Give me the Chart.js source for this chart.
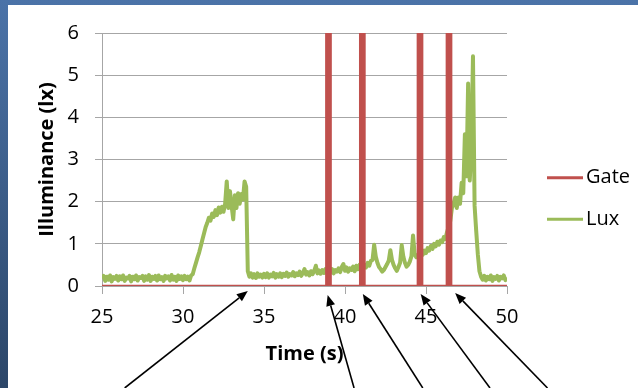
<!DOCTYPE html>
<html>
<head>
<meta charset="utf-8">
<script src="https://cdn.jsdelivr.net/npm/chart.js@4"></script>
<style>
  html, body { margin: 0; padding: 0; }
  body { width: 638px; height: 388px; overflow: hidden; position: relative; background: linear-gradient(#4b73a8, #2c4668); }
  .panel { position: absolute; left: 8px; top: 5px; width: 630px; height: 383px; background: #fff; }
</style>
</head>
<body>
<div class="panel"><canvas id="c" width="630" height="383"></canvas></div>
<script>
const RED = '#C0504D';
const GREEN = '#9BBB59';
const GRID = '#a6a6a6';
const FONT = "'Open Sans', 'DejaVu Sans', sans-serif";

// Lux samples, one every 0.1 s from 25.0 s to 50.0 s
const luxStart = 25.0;
const luxStep = 0.1;
const luxValues = [
  0.18,0.24,0.12,0.22,0.15,0.25,0.11,0.21,0.17,0.24,
  0.13,0.23,0.16,0.25,0.12,0.20,0.18,0.24,0.11,0.22,
  0.16,0.25,0.13,0.21,0.19,0.24,0.12,0.23,0.15,0.26,
  0.12,0.22,0.17,0.24,0.13,0.25,0.16,0.21,0.12,0.24,
  0.18,0.23,0.13,0.26,0.15,0.22,0.12,0.25,0.17,0.23,
  0.14,0.24,0.16,0.22,0.13,0.25,0.28,0.42,0.55,0.68,
  0.80,0.95,1.10,1.25,1.40,1.50,1.62,1.55,1.72,1.64,
  1.80,1.68,1.86,1.74,1.88,1.76,1.95,2.48,1.85,2.25,
  1.90,1.58,2.15,1.85,2.20,1.95,2.18,2.05,2.48,2.35,
  0.35,0.22,0.30,0.20,0.28,0.19,0.30,0.22,0.27,0.20,
  0.29,0.21,0.30,0.20,0.27,0.23,0.31,0.20,0.28,0.22,
  0.30,0.21,0.29,0.24,0.32,0.22,0.28,0.25,0.33,0.23,
  0.30,0.26,0.34,0.24,0.31,0.40,0.27,0.33,0.25,0.35,
  0.28,0.36,0.48,0.30,0.37,0.29,0.38,0.31,0.40,0.30,
  0.36,0.32,0.40,0.30,0.38,0.34,0.42,0.33,0.45,0.52,
  0.36,0.44,0.34,0.42,0.38,0.46,0.35,0.48,0.40,0.50,
  0.42,0.38,0.50,0.44,0.55,0.48,0.60,0.62,0.98,0.70,
  0.55,0.45,0.40,0.34,0.38,0.45,0.52,0.60,0.85,0.62,
  0.50,0.42,0.36,0.45,0.55,0.97,0.70,0.55,0.46,0.50,
  0.58,0.70,1.20,0.75,0.68,0.74,0.70,0.80,0.74,0.84,
  0.78,0.90,0.84,0.95,0.88,1.00,0.94,1.05,0.98,1.08,
  1.04,1.16,1.12,1.28,1.40,1.55,1.85,1.95,2.10,1.85,
  2.10,1.95,2.45,2.20,3.60,2.60,4.80,2.50,3.30,5.45,
  1.90,1.30,0.75,0.35,0.22,0.15,0.24,0.13,0.22,0.16,
  0.25,0.12,0.21,0.17,0.24,0.13,0.22,0.18,0.25,0.14,
  0.20
];

// Gate signal: edges of the four pulses
const gateTimes  = [25, 38.85,38.85,39.11,39.11, 40.94,40.94,41.2,41.2, 44.5,44.5,44.76,44.76, 46.29,46.29,46.55,46.55, 50];
const gateValues = [0,  0,6,6,0,                 0,6,6,0,               0,6,6,0,                0,6,6,0,                  0];

const xTicks = [25, 30, 35, 40, 45, 50];
const yTicks = [0, 1, 2, 3, 4, 5, 6];

// arrows under the axis: tip / tail in seconds
const arrowTips  = [34.0, 38.93, 41.1, 44.67, 46.8];
const arrowTails = [26.4, 40.56, 44.8, 48.95, 52.5];
const arrowDrop  = [5, 9, 8, 8, 7];

const legendPlugin = {
  id: 'sideLegend',
  afterDraw(chart) {
    const { ctx, chartArea } = chart;
    ctx.save();
    ctx.font = `20px ${FONT}`;
    ctx.textBaseline = 'middle';
    ctx.fillStyle = '#000';
    chart.data.datasets.forEach((ds, i) => {
      const y = 172.7 + i * 41.6;
      const x0 = chartArea.right + 40;
      ctx.strokeStyle = ds.borderColor;
      ctx.lineWidth = 3;
      ctx.beginPath(); ctx.moveTo(x0, y); ctx.lineTo(x0 + 36, y); ctx.stroke();
      ctx.fillText(ds.label, x0 + 39, y);
    });
    ctx.restore();
  }
};

const arrowPlugin = {
  id: 'arrows',
  afterDraw(chart) {
    const { ctx, chartArea, scales: { x } } = chart;
    ctx.save();
    ctx.strokeStyle = '#000';
    ctx.fillStyle = '#000';
    ctx.lineWidth = 1.6;
    arrowTips.forEach((t, i) => {
      const tx = x.getPixelForValue(t), ty = chartArea.bottom + arrowDrop[i];
      const bx = x.getPixelForValue(arrowTails[i]), by = chart.height;
      const a = Math.atan2(ty - by, tx - bx);
      const len = 11, hw = 4.5;
      const hx = tx - len * Math.cos(a), hy = ty - len * Math.sin(a);
      ctx.beginPath(); ctx.moveTo(bx, by); ctx.lineTo(hx, hy); ctx.stroke();
      ctx.beginPath();
      ctx.moveTo(tx, ty);
      ctx.lineTo(hx + hw * Math.sin(a), hy - hw * Math.cos(a));
      ctx.lineTo(hx - hw * Math.sin(a), hy + hw * Math.cos(a));
      ctx.closePath(); ctx.fill();
    });
    ctx.restore();
  }
};

new Chart(document.getElementById('c'), {
  type: 'line',
  data: {
    datasets: [
      { label: 'Gate', data: gateTimes.map((t, i) => ({ x: t, y: gateValues[i] })),
        borderColor: RED, backgroundColor: RED, borderWidth: 2.5, fill: 'origin', pointRadius: 0, tension: 0 },
      { label: 'Lux', data: luxValues.map((v, i) => ({ x: +(luxStart + i * luxStep).toFixed(1), y: v })),
        borderColor: GREEN, borderWidth: 4, borderJoinStyle: 'round', fill: false, pointRadius: 0, tension: 0 },
    ]
  },
  options: {
    responsive: false,
    animation: false,
    layout: { padding: { top: 23, right: 131, left: 0, bottom: 0 } },
    plugins: { legend: { display: false }, tooltip: { enabled: false } },
    scales: {
      x: {
        type: 'linear', min: 25, max: 50,
        afterBuildTicks: s => { s.ticks = xTicks.map(v => ({ value: v })); },
        afterFit: s => { s.height = 102; },
        ticks: { color: '#000', padding: 11, font: { family: FONT, size: 20 } },
        grid: { drawOnChartArea: false, tickLength: 8, color: GRID },
        border: { color: GRID },
        title: { display: true, text: 'Time (s)', color: '#000', font: { family: FONT, size: 20, weight: 'bold' }, padding: { top: 0, bottom: 22 } },
      },
      y: {
        min: 0, max: 6,
        afterBuildTicks: s => { s.ticks = yTicks.map(v => ({ value: v })); },
        afterFit: s => { s.width = 94; },
        ticks: { color: '#000', padding: 16, font: { family: FONT, size: 20 } },
        grid: { color: GRID, tickLength: 7 },
        border: { color: GRID },
        title: { display: true, text: 'Illuminance (lx)', color: '#000', font: { family: FONT, size: 20, weight: 'bold' }, padding: { top: 27, bottom: 0 } },
      }
    }
  },
  plugins: [legendPlugin, arrowPlugin]
});
</script>
</body>
</html>
